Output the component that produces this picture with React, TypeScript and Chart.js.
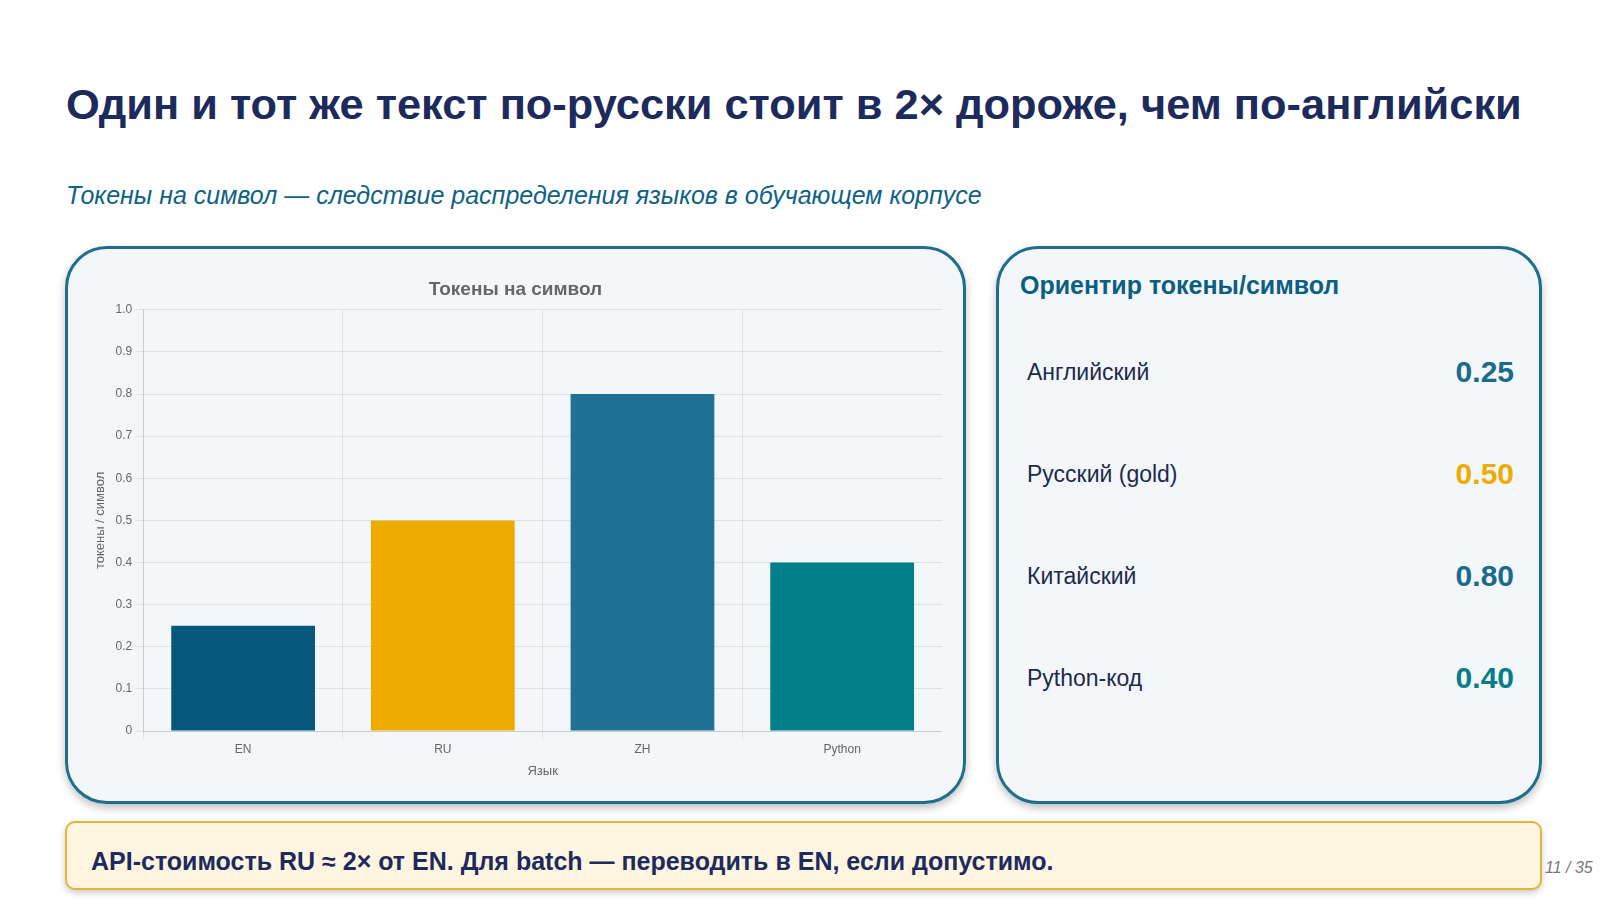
import React, { useEffect, useRef } from "react";
import { Chart, registerables } from "chart.js";

Chart.register(...registerables);

const categories = ["EN", "RU", "ZH", "Python"];
const tokensPerChar = [0.25, 0.5, 0.8, 0.4];
const barColors = ["#08587e", "#eeab00", "#1f7293", "#037e8b"];

const refLabels = ["Английский", "Русский (gold)", "Китайский", "Python-код"];
const refValues = ["0.25", "0.50", "0.80", "0.40"];
const refColors = ["#1a6a8a", "#eeab00", "#1a6a8a", "#087c88"];

const FONT = "'Liberation Sans', Arial, Helvetica, sans-serif";

function BarChart() {
  const ref = useRef<HTMLCanvasElement | null>(null);
  useEffect(() => {
    if (!ref.current) return;
    const chart = new Chart(ref.current, {
      type: "bar",
      data: {
        labels: categories,
        datasets: [
          {
            label: "Токены на символ",
            data: tokensPerChar,
            backgroundColor: barColors,
            borderWidth: 0,
          },
        ],
      },
      options: {
        animation: false,
        responsive: true,
        maintainAspectRatio: false,
        layout: { padding: 0 },
        plugins: {
          legend: { display: false },
          tooltip: { enabled: false },
          title: {
            display: true,
            text: "Токены на символ",
            color: "#666666",
            font: { family: FONT, size: 19, weight: "bold" },
            padding: { top: 8, bottom: 9 },
          },
        },
        scales: {
          x: {
            title: {
              display: true,
              text: "Язык",
              color: "#666666",
              font: { family: FONT, size: 13 },
            },
            ticks: { color: "#666666", font: { family: FONT, size: 12 } },
            grid: { color: "rgba(0,0,0,0.08)" },
          },
          y: {
            min: 0,
            max: 1,
            title: {
              display: true,
              text: "токены / символ",
              color: "#666666",
              font: { family: FONT, size: 13 },
            },
            ticks: {
              stepSize: 0.1,
              color: "#666666",
              font: { family: FONT, size: 12 },
              callback: (v: any) => {
                const n = Number(v);
                return n === 0 ? "0" : n.toFixed(1);
              },
            },
            grid: { color: "rgba(0,0,0,0.08)" },
          },
        },
      },
    });
    return () => chart.destroy();
  }, []);
  return <canvas ref={ref} />;
}

export default function App() {
  useEffect(() => {
    document.body.style.margin = "0";
  }, []);
  return (
    <div
      style={{
        position: "fixed",
        left: 0,
        top: 0,
        width: 1600,
        height: 900,
        background: "#ffffff",
        fontFamily: FONT,
        overflow: "hidden",
      }}
    >
      <div
        style={{
          position: "absolute",
          left: 66,
          top: 78,
          fontSize: 43.4,
          fontWeight: "bold",
          color: "#1d2a5c",
          whiteSpace: "nowrap",
          lineHeight: "52px",
        }}
      >
        Один и тот же текст по-русски стоит в 2× дороже, чем по-английски
      </div>
      <div
        style={{
          position: "absolute",
          left: 66,
          top: 180,
          fontSize: 25,
          fontStyle: "italic",
          color: "#0f6283",
          whiteSpace: "nowrap",
          lineHeight: "30px",
        }}
      >
        Токены на символ — следствие распределения языков в обучающем корпусе
      </div>

      {/* left panel */}
      <div
        style={{
          position: "absolute",
          left: 65,
          top: 246,
          width: 901,
          height: 558,
          boxSizing: "border-box",
          border: "3px solid #1f6e8c",
          borderRadius: 42,
          background: "#f3f7fa",
          boxShadow: "0 4px 8px rgba(0,0,0,0.25)",
        }}
      />
      <div
        style={{
          position: "absolute",
          left: 89,
          top: 270,
          width: 853,
          height: 513,
        }}
      >
        <BarChart />
      </div>

      {/* right panel */}
      <div
        style={{
          position: "absolute",
          left: 996,
          top: 246,
          width: 546,
          height: 558,
          boxSizing: "border-box",
          border: "3px solid #1f6e8c",
          borderRadius: 42,
          background: "#f3f7fa",
          boxShadow: "0 4px 8px rgba(0,0,0,0.25)",
        }}
      >
        <div
          style={{
            position: "absolute",
            left: 21,
            top: 20,
            fontSize: 25,
            fontWeight: "bold",
            color: "#0d5e80",
            whiteSpace: "nowrap",
            lineHeight: "32px",
          }}
        >
          Ориентир токены/символ
        </div>
        {refLabels.map((lab, i) => (
          <div
            key={lab}
            style={{
              position: "absolute",
              left: 28,
              right: 25,
              top: 103 + i * 102,
              height: 40,
              display: "flex",
              alignItems: "center",
              justifyContent: "space-between",
            }}
          >
            <span style={{ fontSize: 23, color: "#1e2a4a" }}>{lab}</span>
            <span style={{ fontSize: 30, fontWeight: "bold", color: refColors[i] }}>
              {refValues[i]}
            </span>
          </div>
        ))}
      </div>

      {/* bottom callout */}
      <div
        style={{
          position: "absolute",
          left: 65,
          top: 821,
          width: 1477,
          height: 69,
          boxSizing: "border-box",
          border: "2px solid #e2b43a",
          borderRadius: 10,
          background: "#fff5e1",
          boxShadow: "0 3px 6px rgba(0,0,0,0.2)",
          display: "flex",
          alignItems: "center",
          paddingLeft: 24,
          paddingTop: 11,
        }}
      >
        <span style={{ fontSize: 25, fontWeight: "bold", color: "#1d2a5c", whiteSpace: "nowrap" }}>
          API-стоимость RU ≈ 2× от EN. Для batch — переводить в EN, если допустимо.
        </span>
      </div>
      <div
        style={{
          position: "absolute",
          left: 1545,
          top: 859,
          fontSize: 16,
          fontStyle: "italic",
          color: "#777777",
          whiteSpace: "nowrap",
        }}
      >
        11 / 35
      </div>
    </div>
  );
}
